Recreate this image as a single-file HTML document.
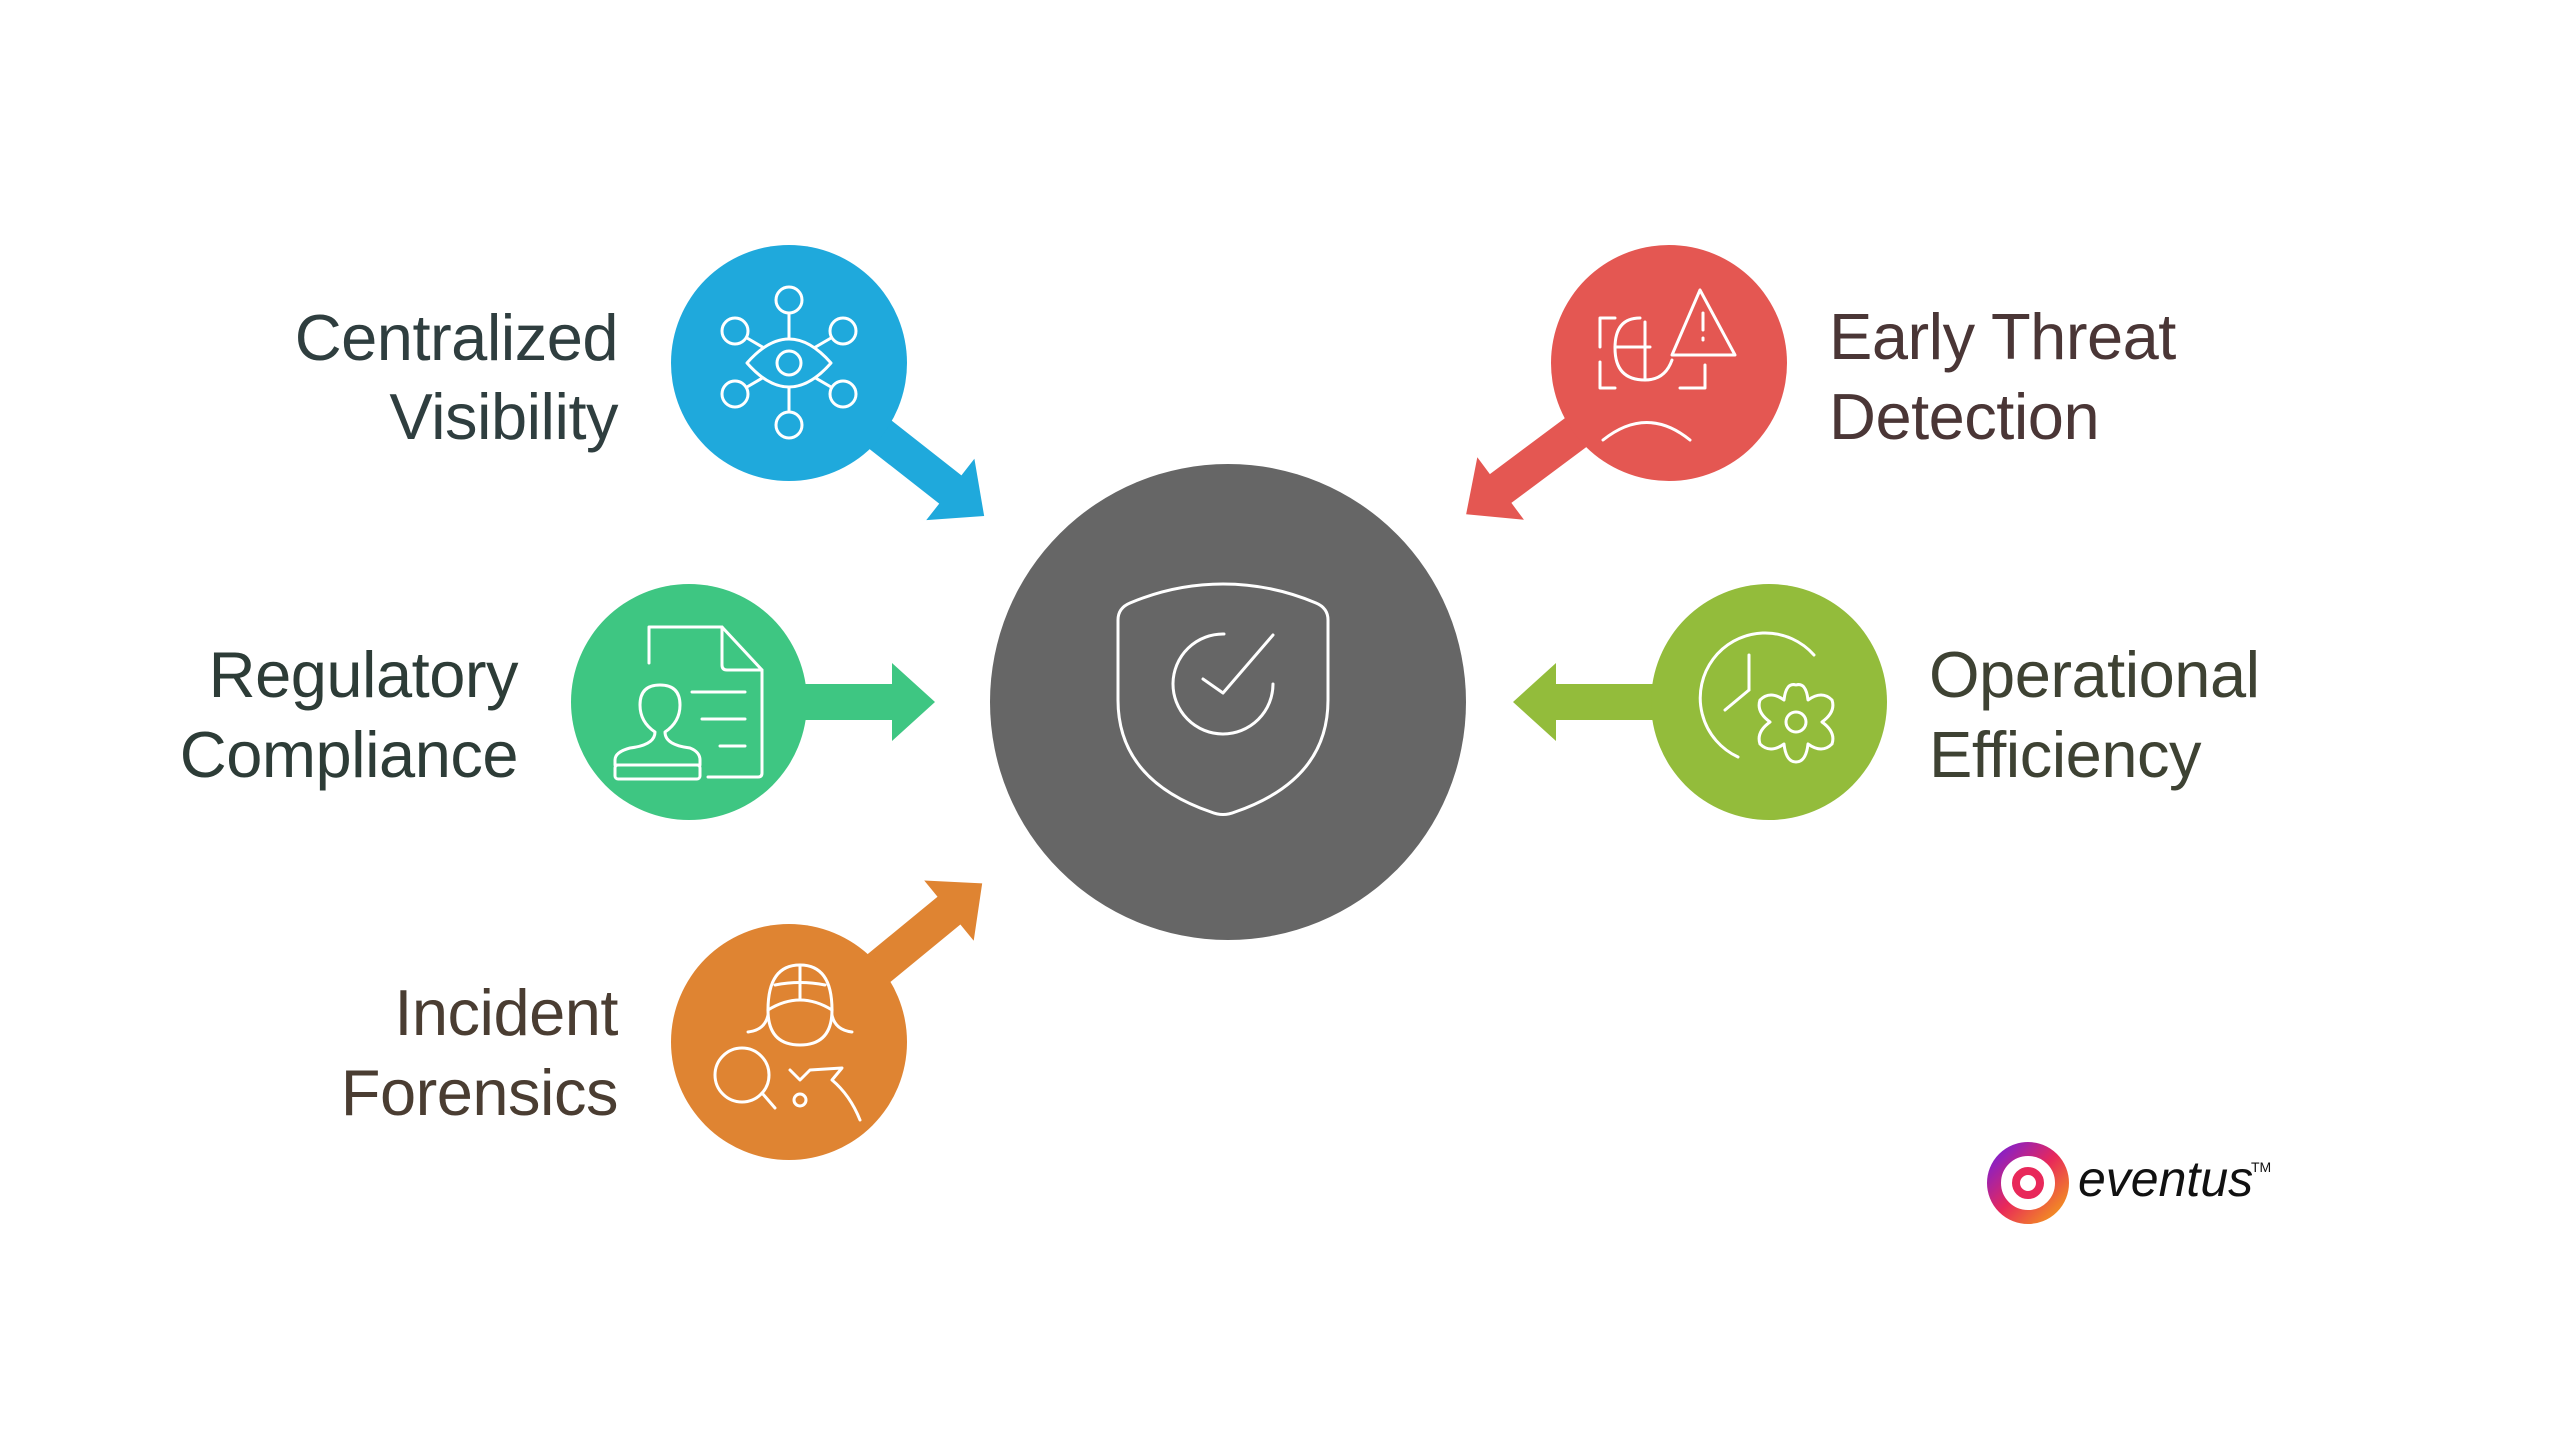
<!DOCTYPE html>
<html><head><meta charset="utf-8"><style>
html,body{margin:0;padding:0;background:#fff;}
svg{display:block;}
text{font-family:"Liberation Sans",sans-serif;}
</style></head><body>
<svg width="2560" height="1431" viewBox="0 0 2560 1431" xmlns="http://www.w3.org/2000/svg">
<defs>
<linearGradient id="lg" x1="0" y1="0" x2="1" y2="1">
<stop offset="0" stop-color="#7a1fd6"/><stop offset="0.5" stop-color="#e8285a"/><stop offset="1" stop-color="#f39a1c"/>
</linearGradient>
</defs>
<g transform="translate(789,363) rotate(38.1)">
<polygon points="0,-18 205,-18 205,-39 248,0 205,39 205,18 0,18" fill="#1fa9dc"/></g>
<polygon points="689,684 892,684 892,663 935,702 892,741 892,720 689,720" fill="#3ec682"/>
<g transform="translate(789,1042) rotate(-39.4)">
<polygon points="0,-18 207,-18 207,-39 250,0 207,39 207,18 0,18" fill="#df8432"/></g>
<g transform="translate(1669,363) rotate(143.3)">
<polygon points="0,-18 210,-18 210,-39 253,0 210,39 210,18 0,18" fill="#e45752"/></g>
<polygon points="1769,684 1556,684 1556,663 1513,702 1556,741 1556,720 1769,720" fill="#93bc3b"/>
<circle cx="1228" cy="702" r="238" fill="#666666"/>
<circle cx="789" cy="363" r="118" fill="#1fa9dc"/>
<circle cx="689" cy="702" r="118" fill="#3ec682"/>
<circle cx="789" cy="1042" r="118" fill="#df8432"/>
<circle cx="1669" cy="363" r="118" fill="#e45752"/>
<circle cx="1769" cy="702" r="118" fill="#93bc3b"/>
<g fill="none" stroke="#fff" stroke-width="3" stroke-linecap="round" stroke-linejoin="round">
<path d="M1118,620 Q1118,608 1130,603 Q1175,584 1223,584 Q1271,584 1316,603 Q1328,608 1328,620 L1328,700 Q1328,780 1235,812 Q1223,817 1211,812 Q1118,780 1118,700 Z"/>
<path d="M1224,634 A50,50 0 1 0 1273,684"/>
<path d="M1203,679 L1223,693 L1273,635"/>
<line x1="789" y1="313" x2="789" y2="412"/>
<line x1="747" y1="338" x2="831" y2="387"/><line x1="831" y1="338" x2="747" y2="387"/>
<circle cx="789" cy="300" r="13" fill="#1fa9dc"/><circle cx="789" cy="425" r="13" fill="#1fa9dc"/>
<circle cx="735" cy="331" r="13" fill="#1fa9dc"/><circle cx="843" cy="331" r="13" fill="#1fa9dc"/>
<circle cx="735" cy="394" r="13" fill="#1fa9dc"/><circle cx="843" cy="394" r="13" fill="#1fa9dc"/>
<path d="M747,363 Q789,315 831,363 Q789,411 747,363 Z" fill="#1fa9dc"/>
<circle cx="789" cy="363" r="12"/>
<path d="M649,663 L649,627 L722,627 L762,670 L762,773 Q762,777 758,777 L708,777"/>
<path d="M722,627 L722,665 Q722,670 727,670 L762,670"/>
<line x1="692" y1="692" x2="745" y2="692"/><line x1="702" y1="719" x2="745" y2="719"/><line x1="720" y1="746" x2="745" y2="746"/>
<path d="M655,732 Q640,722 640,705 Q640,685 660,685 Q680,685 680,705 Q680,722 665,732 Q665,745 690,748 Q700,752 700,760 L700,765 L615,765 L615,760 Q615,752 630,748 Q655,745 655,732 Z"/>
<rect x="615" y="765" width="85" height="14" rx="3"/>
<path d="M768,1010 Q768,965 800,965 Q832,965 832,1010 Q832,1045 800,1045 Q768,1045 768,1010 Z"/>
<path d="M768,1010 Q800,990 832,1010"/><line x1="800" y1="965" x2="800" y2="1000"/><path d="M775,985 Q800,980 825,985"/>
<path d="M768,1015 Q765,1030 748,1032"/><path d="M832,1015 Q835,1030 852,1032"/>
<circle cx="742" cy="1075" r="27"/><line x1="762" y1="1093" x2="775" y2="1108"/>
<path d="M790,1070 L800,1080 L810,1070 L842,1068 L832,1080 Q850,1095 860,1120"/>
<circle cx="800" cy="1100" r="6"/>
<path d="M1600,347 L1600,318 L1615,318"/><path d="M1600,362 L1600,388 L1615,388"/>
<path d="M1680,388 L1705,388 L1705,365"/><path d="M1640,318 Q1615,318 1615,348 Q1615,380 1645,380 Q1665,380 1672,360"/>
<line x1="1645" y1="322" x2="1645" y2="380"/><line x1="1615" y1="347" x2="1650" y2="347"/>
<path d="M1603,440 Q1647,405 1690,440"/>
<path d="M1700,290 L1672,355 L1735,355 Z"/><line x1="1703" y1="313" x2="1703" y2="330"/><line x1="1703" y1="338" x2="1703" y2="340"/>
<path d="M1814,655 A65,65 0 1 0 1738,757"/>
<line x1="1749" y1="655" x2="1749" y2="690"/><line x1="1749" y1="690" x2="1725" y2="710"/>
<path d="M1796,685 Q1806,682 1808,700 Q1822,690 1832,700 Q1836,712 1822,722 Q1836,732 1832,744 Q1822,754 1808,744 Q1806,762 1796,762 Q1786,762 1784,744 Q1770,754 1760,744 Q1756,732 1770,722 Q1756,712 1760,700 Q1770,690 1784,700 Q1786,682 1796,685 Z"/>
<circle cx="1796" cy="722" r="10"/>
</g>
<g font-size="65" letter-spacing="-0.5">
<text x="618" y="360" text-anchor="end" fill="#2f3e3f">Centralized</text>
<text x="618" y="439" text-anchor="end" fill="#2f3e3f">Visibility</text>
<text x="518" y="697" text-anchor="end" fill="#2d3c37">Regulatory</text>
<text x="518" y="777" text-anchor="end" fill="#2d3c37">Compliance</text>
<text x="618" y="1035" text-anchor="end" fill="#4a3d32">Incident</text>
<text x="618" y="1115" text-anchor="end" fill="#4a3d32">Forensics</text>
<text x="1829" y="359" fill="#4a3636">Early Threat</text>
<text x="1829" y="439" fill="#4a3636">Detection</text>
<text x="1929" y="697" fill="#3e4233">Operational</text>
<text x="1929" y="777" fill="#3e4233">Efficiency</text>
</g>
<circle cx="2028" cy="1183" r="34" fill="none" stroke="url(#lg)" stroke-width="14"/>
<circle cx="2028" cy="1183" r="12" fill="none" stroke="#e8285a" stroke-width="8"/>
<text x="2078" y="1196" font-size="50" fill="#111" font-style="italic">eventus</text>
<text x="2251" y="1172" font-size="14" fill="#111">TM</text>
</svg>
</body></html>
